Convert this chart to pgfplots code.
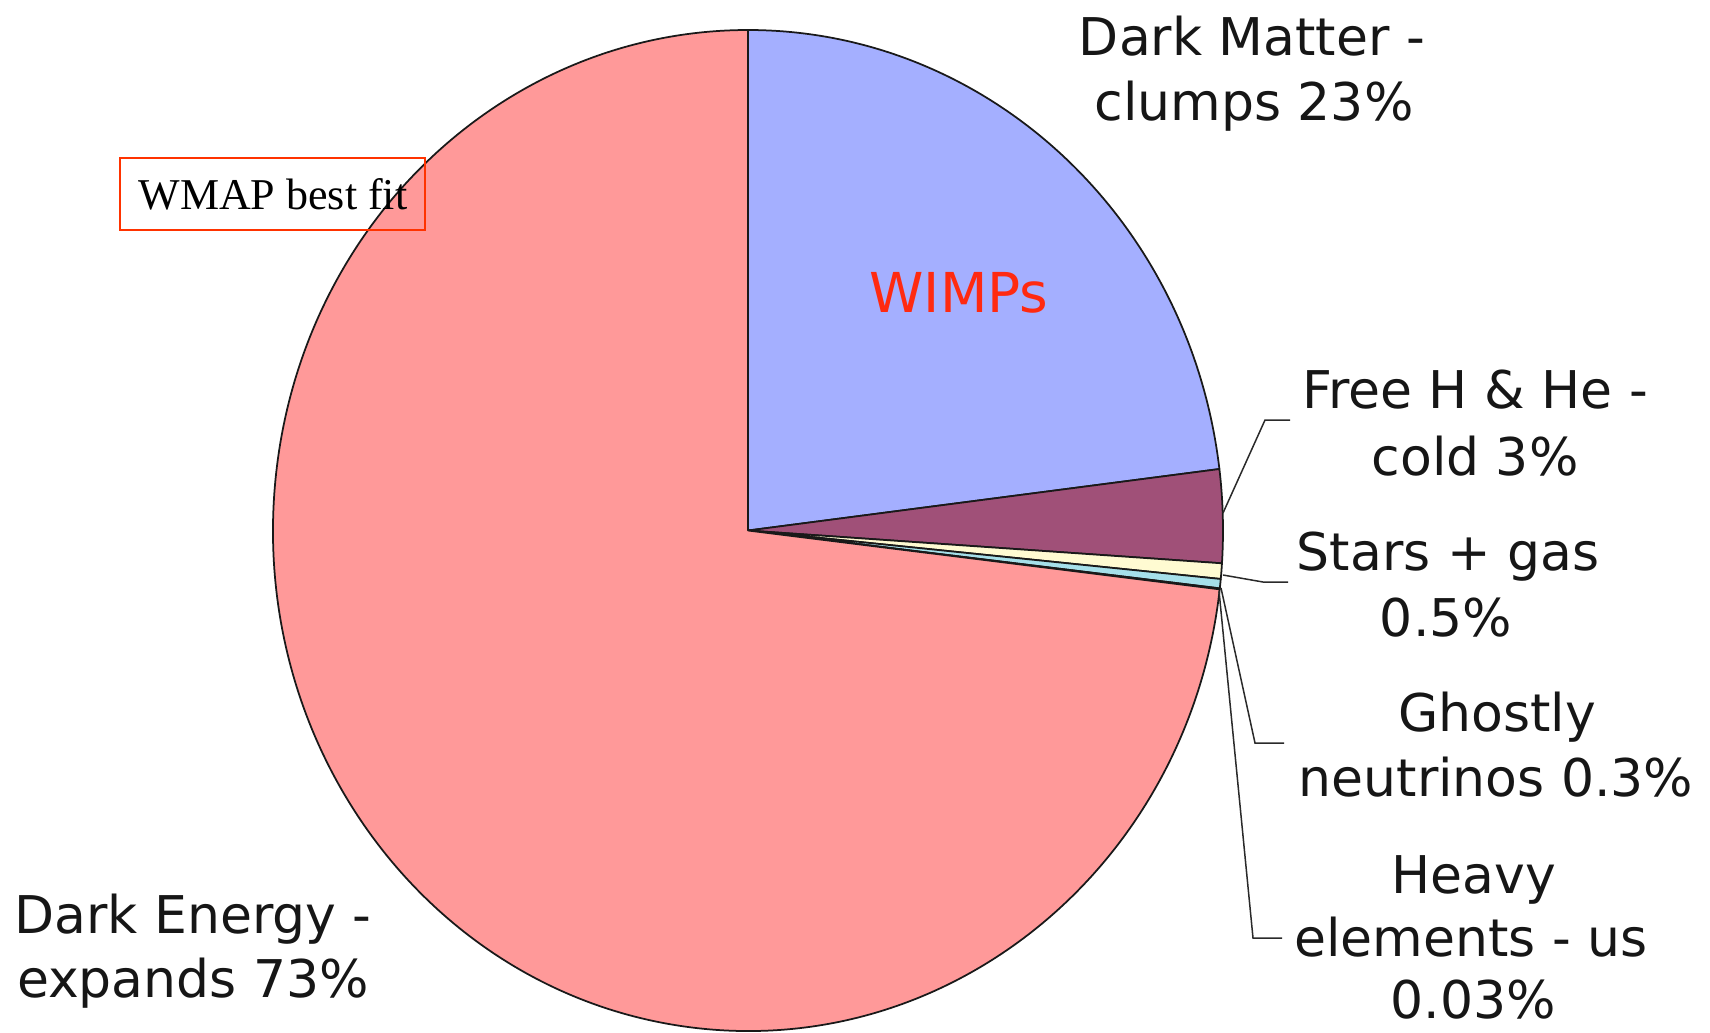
\documentclass[border=0pt]{standalone}
\usepackage{pgfplots}
\pgfplotsset{compat=1.18}
\usepackage{pgfplotstable}
\usepackage{fontspec}
\setmainfont{DejaVu Sans}
\newfontfamily\timesf{Liberation Serif}

\definecolor{dmcol}{HTML}{A4AFFF}
\definecolor{hhecol}{HTML}{A05078}
\definecolor{starcol}{HTML}{FFFBD2}
\definecolor{nucol}{HTML}{A6E0EA}
\definecolor{heavycol}{HTML}{3A3A5A}
\definecolor{decol}{HTML}{FF9999}
\definecolor{txt}{HTML}{161616}
\definecolor{leader}{HTML}{2A2A2A}
\definecolor{boxred}{HTML}{FF3300}
\definecolor{wimpred}{HTML}{FF2A10}

% composition of the universe, percent, clockwise from twelve o'clock
\pgfplotstableread{
share  colour
23     dmcol
3      hhecol
0.5    starcol
0.3    nucol
0.03   heavycol
73     decol
}\universe

\newcommand\lbl{\fontsize{20.8}{25.6}\selectfont\color{txt}}

\begin{document}
\begin{tikzpicture}
\begin{axis}[
  width=684pt, height=412.8pt, scale only axis,
  xmin=0, xmax=1710, ymin=0, ymax=1032, y dir=reverse,
  hide axis, clip=false,
]
% total of all shares
\gdef\total{0}
\pgfplotsforeachungrouped \i in {0,...,5}{%
  \pgfplotstablegetelem{\i}{share}\of\universe
  \pgfmathparse{\total+\pgfplotsretval}\xdef\total{\pgfmathresult}%
}
% pie wedges (ellipse radii 190pt x 200.2pt)
\gdef\startang{90}
\pgfplotsforeachungrouped \i in {0,...,5}{%
  \pgfplotstablegetelem{\i}{share}\of\universe
  \pgfmathsetmacro\endang{\startang-\pgfplotsretval/\total*360}%
  \pgfplotstablegetelem{\i}{colour}\of\universe
  \let\wcol\pgfplotsretval
  \edef\wedge{\noexpand\filldraw[fill=\wcol, draw=black!90, line width=0.7pt, line join=round]
    (axis cs:748,530.5) -- ++(\startang:190pt and 200.2pt)
    arc[start angle=\startang, end angle=\endang, x radius=190pt, y radius=200.2pt] -- cycle;}%
  \wedge
  \xdef\startang{\endang}%
}

% leader lines
\draw[leader, line width=0.6pt] (axis cs:1223,513) -- (axis cs:1265,420) -- (axis cs:1290,420);
\draw[leader, line width=0.6pt] (axis cs:1223,575) -- (axis cs:1263,582) -- (axis cs:1288,582);
\draw[leader, line width=0.6pt] (axis cs:1221,588) -- (axis cs:1255,743) -- (axis cs:1284,743);
\draw[leader, line width=0.6pt] (axis cs:1219,591) -- (axis cs:1253,938) -- (axis cs:1282,938);

% labels
\node[anchor=base] at (axis cs:1252,55) {\lbl Dark Matter -};
\node[anchor=base] at (axis cs:1254,120) {\lbl clumps 23\%};
\node[anchor=base] at (axis cs:1475,408) {\lbl Free H \& He -};
\node[anchor=base] at (axis cs:1475,475) {\lbl cold 3\%};
\node[anchor=base] at (axis cs:1448,570) {\lbl Stars + gas};
\node[anchor=base] at (axis cs:1446,636) {\lbl 0.5\%};
\node[anchor=base] at (axis cs:1497,731) {\lbl Ghostly};
\node[anchor=base] at (axis cs:1496,796) {\lbl neutrinos 0.3\%};
\node[anchor=base] at (axis cs:1474,893) {\lbl Heavy};
\node[anchor=base] at (axis cs:1471,956) {\lbl elements - us};
\node[anchor=base] at (axis cs:1473,1018) {\lbl 0.03\%};
\node[anchor=base] at (axis cs:193,933) {\lbl Dark Energy -};
\node[anchor=base] at (axis cs:193,997) {\lbl expands 73\%};

\node[anchor=base] at (axis cs:959,312) {\fontsize{22}{26}\selectfont\color{wimpred}WIMPs};

\draw[boxred, line width=0.6pt] (axis cs:120,158) rectangle (axis cs:425,230);
\node[anchor=base] at (axis cs:273,209) {\timesf\fontsize{17.6}{20}\selectfont WMAP best fit};
\end{axis}
\pgfresetboundingbox
\path[use as bounding box] (current axis.south west) rectangle (current axis.north east);
\end{tikzpicture}
\end{document}
